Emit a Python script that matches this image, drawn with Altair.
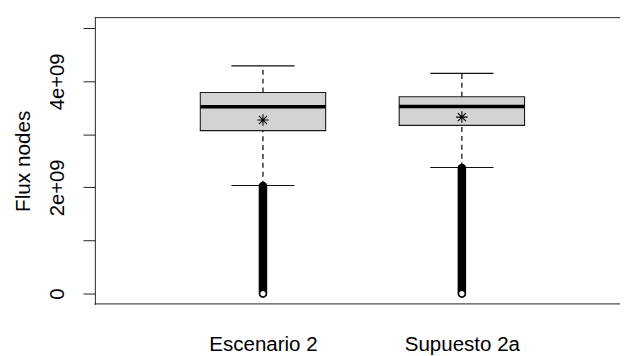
import altair as alt
import pandas as pd

# ---- data ----
categories = ["Escenario 2", "Supuesto 2a"]
upper_whisker = [4.29e9, 4.15e9]
q3 = [3.79e9, 3.71e9]
median = [3.52e9, 3.525e9]
q1 = [3.07e9, 3.17e9]
lower_whisker = [2.035e9, 2.375e9]
means = [3.27e9, 3.325e9]
outlier_max = [2.025e9, 2.365e9]
outlier_min = [0.0, 0.0]

y_tick_values = [0, 1e9, 2e9, 3e9, 4e9, 5e9]
y_tick_labels = ["0", "", "2e+09", "", "4e+09", ""]
y_title = "Flux nodes"

df = pd.DataFrame({
    "cat": categories,
    "upper": upper_whisker,
    "q3": q3,
    "median": median,
    "q1": q1,
    "lower": lower_whisker,
    "mean": means,
    "omax": outlier_max,
    "omin": outlier_min,
})

W, H = 532, 291
FONT = "Liberation Sans"

label_expr = ""
for v, lab in zip(y_tick_values, y_tick_labels):
    label_expr += f"datum.value == {int(v)} ? '{lab}' : "
label_expr += "''"

xscale = alt.Scale(type="point", domain=categories, range=[170.3, 371.8], padding=0)
yscale = alt.Scale(domain=[-0.2047e9, 5.209e9], nice=False, zero=False)

x_enc = alt.X("cat:N", scale=xscale, sort=categories,
              axis=alt.Axis(title=None, domain=False, ticks=True, tickSize=0,
                            labelPadding=47, labelBaseline="alphabetic",
                            labelAngle=0, labelFont=FONT, labelFontSize=20.8,
                            labelColor="#000000", grid=False))
y_axis = alt.Axis(values=y_tick_values, labelExpr=label_expr, tickSize=12,
                  tickColor="#222222", tickWidth=1, domainColor="#222222",
                  domainWidth=1, labelAngle=270, labelAlign="center",
                  labelBaseline="alphabetic", labelPadding=20, labelFont=FONT,
                  labelFontSize=20.5, labelColor="#000000", grid=False,
                  title=y_title, titleAngle=270, titleX=-66.5, titleY=H / 2,
                  titleAlign="center", titleBaseline="alphabetic",
                  titleFont=FONT, titleFontSize=21, titleFontWeight="normal",
                  titleColor="#000000")

base = alt.Chart(df)

whisk_up = base.mark_rule(color="#000000", strokeWidth=1.2, strokeDash=[5, 4]).encode(
    x=x_enc, y=alt.Y("q3:Q", scale=yscale, axis=y_axis), y2="upper:Q")
whisk_lo = base.mark_rule(color="#000000", strokeWidth=1.2, strokeDash=[5, 4]).encode(
    x=x_enc, y=alt.Y("lower:Q", scale=yscale), y2="q1:Q")
cap_up = base.mark_tick(color="#111111", size=64, thickness=1.1, opacity=1).encode(
    x=x_enc, y=alt.Y("upper:Q", scale=yscale))
cap_lo = base.mark_tick(color="#111111", size=64, thickness=1.1, opacity=1).encode(
    x=x_enc, y=alt.Y("lower:Q", scale=yscale))
box = base.mark_bar(size=127, fill="#d3d3d3", stroke="#1a1a1a", strokeWidth=1.1,
                    opacity=1).encode(
    x=x_enc, y=alt.Y("q1:Q", scale=yscale), y2="q3:Q")
med = base.mark_tick(color="#000000", size=127, thickness=3.6, opacity=1).encode(
    x=x_enc, y=alt.Y("median:Q", scale=yscale))
outl = base.mark_rule(color="#000000", strokeWidth=8.6, strokeCap="round").encode(
    x=x_enc, y=alt.Y("omin:Q", scale=yscale), y2="omax:Q")
outl_end = base.mark_point(shape="circle", size=46, filled=False, fill="#ffffff",
                           fillOpacity=1, stroke="#000000", strokeWidth=1.4,
                           opacity=1).encode(
    x=x_enc, y=alt.Y("omin:Q", scale=yscale))
star_path = ("M-1,0L1,0M0,-1L0,1M-0.707,-0.707L0.707,0.707"
             "M-0.707,0.707L0.707,-0.707")
mean_pt = base.mark_point(shape=star_path, size=136, filled=False,
                          stroke="#000000", strokeWidth=1.1, opacity=1).encode(
    x=x_enc, y=alt.Y("mean:Q", scale=yscale))

frame_df = pd.DataFrame({"f": [0]})
top_line = alt.Chart(frame_df).mark_rule(color="#222222", strokeWidth=1).encode(
    x=alt.value(0), x2=alt.value(W), y=alt.value(0.5))
bottom_line = alt.Chart(frame_df).mark_rule(color="#222222", strokeWidth=1).encode(
    x=alt.value(0), x2=alt.value(W), y=alt.value(H - 0.5))

chart = alt.layer(
    whisk_up, whisk_lo, cap_up, cap_lo, box, med, outl, outl_end, mean_pt,
    top_line, bottom_line
).properties(
    width=W, height=H,
    autosize=alt.AutoSizeParams(type="none"),
    padding={"left": 88, "top": 7, "right": 0, "bottom": 50},
    background="#ffffff",
).configure_view(strokeOpacity=0)

chart.save("out.html", embed_options={"renderer": "svg", "actions": False})
